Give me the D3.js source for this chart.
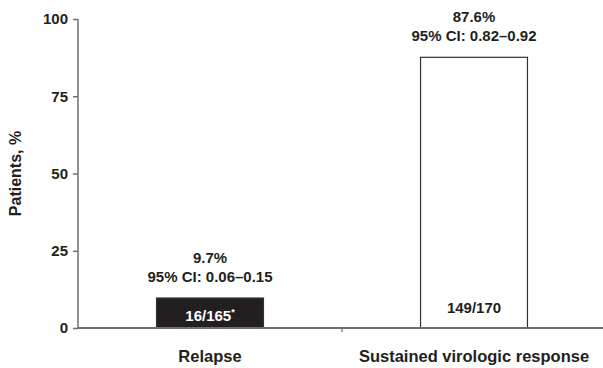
<!DOCTYPE html>
<html>
<head>
<meta charset="utf-8">
<script src="https://cdn.jsdelivr.net/npm/d3@7"></script>
<style>
  body { margin: 0; background: #fff; }
  text { font-family: "Liberation Sans", Arial, sans-serif; font-weight: bold; fill: #231f20; }
</style>
</head>
<body>
<script>
var width = 603;
var height = 368;

var categories = ['Relapse', 'Sustained virologic response'];
var percents = [9.7, 87.6];
var percentLabels = ['9.7%', '87.6%'];
var ciLabels = ['95% CI: 0.06\u20130.15', '95% CI: 0.82\u20130.92'];
var countLabels = ['16/165', '149/170'];
var countMarks = ['*', ''];
var yTicks = [0, 25, 50, 75, 100];

var fills = ['#231f20', '#ffffff'];
var innerText = ['#ffffff', '#231f20'];
var innerOffset = [7, 15];
var axisColor = '#6d6e71';

var margin = {top: 19, right: 0, bottom: 40, left: 78};

var x = d3.scaleBand().domain(categories).range([margin.left, 606]).paddingInner(0.595).paddingOuter(0.2975);
var y = d3.scaleLinear().domain([0, 100]).range([height - margin.bottom, margin.top]);

var svg = d3.select('body').append('svg').attr('width', width).attr('height', height).attr('viewBox', [0, 0, width, height].join(' '));

var data = categories.map(function (c, i) {
  return {cat: c, value: percents[i], pct: percentLabels[i], ci: ciLabels[i], count: countLabels[i], mark: countMarks[i], i: i};
});

// y axis
var yAxis = svg.append('g').attr('transform', 'translate(' + margin.left + ',0)')
  .call(d3.axisLeft(y).tickValues(yTicks).tickSize(5).tickPadding(5));
yAxis.select('.domain').attr('d', 'M0,' + y(100) + 'V' + y(0)).attr('stroke', axisColor).attr('stroke-width', 1.5);
yAxis.selectAll('.tick line').attr('stroke', axisColor).attr('stroke-width', 1.5);
yAxis.selectAll('.tick text').style('font-size', '15px').attr('font-family', null);

svg.append('text').attr('transform', 'translate(21,' + y(50) + ') rotate(-90)')
  .attr('text-anchor', 'middle').style('font-size', '16px').text('Patients, %');

// bars
svg.selectAll('.bar').data(data).enter().append('rect').attr('class', 'bar')
  .attr('x', function (d) { return x(d.cat); })
  .attr('y', function (d) { return y(d.value); })
  .attr('width', x.bandwidth())
  .attr('height', function (d) { return y(0) - y(d.value); })
  .attr('fill', function (d) { return fills[d.i]; })
  .attr('stroke', '#333')
  .attr('stroke-width', 1.2);

// x axis
var xAxis = svg.append('g').attr('transform', 'translate(0,' + y(0) + ')');
xAxis.append('line').attr('x1', margin.left).attr('x2', width).attr('stroke', axisColor).attr('stroke-width', 2);
xAxis.append('line').attr('x1', x.step() + margin.left).attr('x2', x.step() + margin.left)
  .attr('y1', 0).attr('y2', 4).attr('stroke', axisColor).attr('stroke-width', 1.2);
xAxis.selectAll('.cat').data(data).enter().append('text').attr('class', 'cat')
  .attr('x', function (d) { return x(d.cat) + x.bandwidth() / 2; })
  .attr('y', 34).attr('text-anchor', 'middle').style('font-size', '16.5px')
  .text(function (d) { return d.cat; });

// labels
var g = svg.selectAll('.lab').data(data).enter().append('g').attr('class', 'lab')
  .attr('transform', function (d) { return 'translate(' + (x(d.cat) + x.bandwidth() / 2) + ',0)'; });
g.append('text').attr('text-anchor', 'middle').style('font-size', '15px')
  .attr('y', function (d) { return y(d.value) - 35; }).text(function (d) { return d.pct; });
g.append('text').attr('text-anchor', 'middle').style('font-size', '15px')
  .attr('y', function (d) { return y(d.value) - 16.5; }).text(function (d) { return d.ci; });
var inner = g.append('text').attr('text-anchor', 'middle').style('font-size', '15px')
  .attr('y', function (d) { return y(0) - innerOffset[d.i]; })
  .style('fill', function (d) { return innerText[d.i]; });
inner.append('tspan').text(function (d) { return d.count; });
inner.filter(function (d) { return d.mark; }).append('tspan').attr('dy', -6).style('font-size', '9px')
  .text(function (d) { return d.mark; });
</script>
</body>
</html>
